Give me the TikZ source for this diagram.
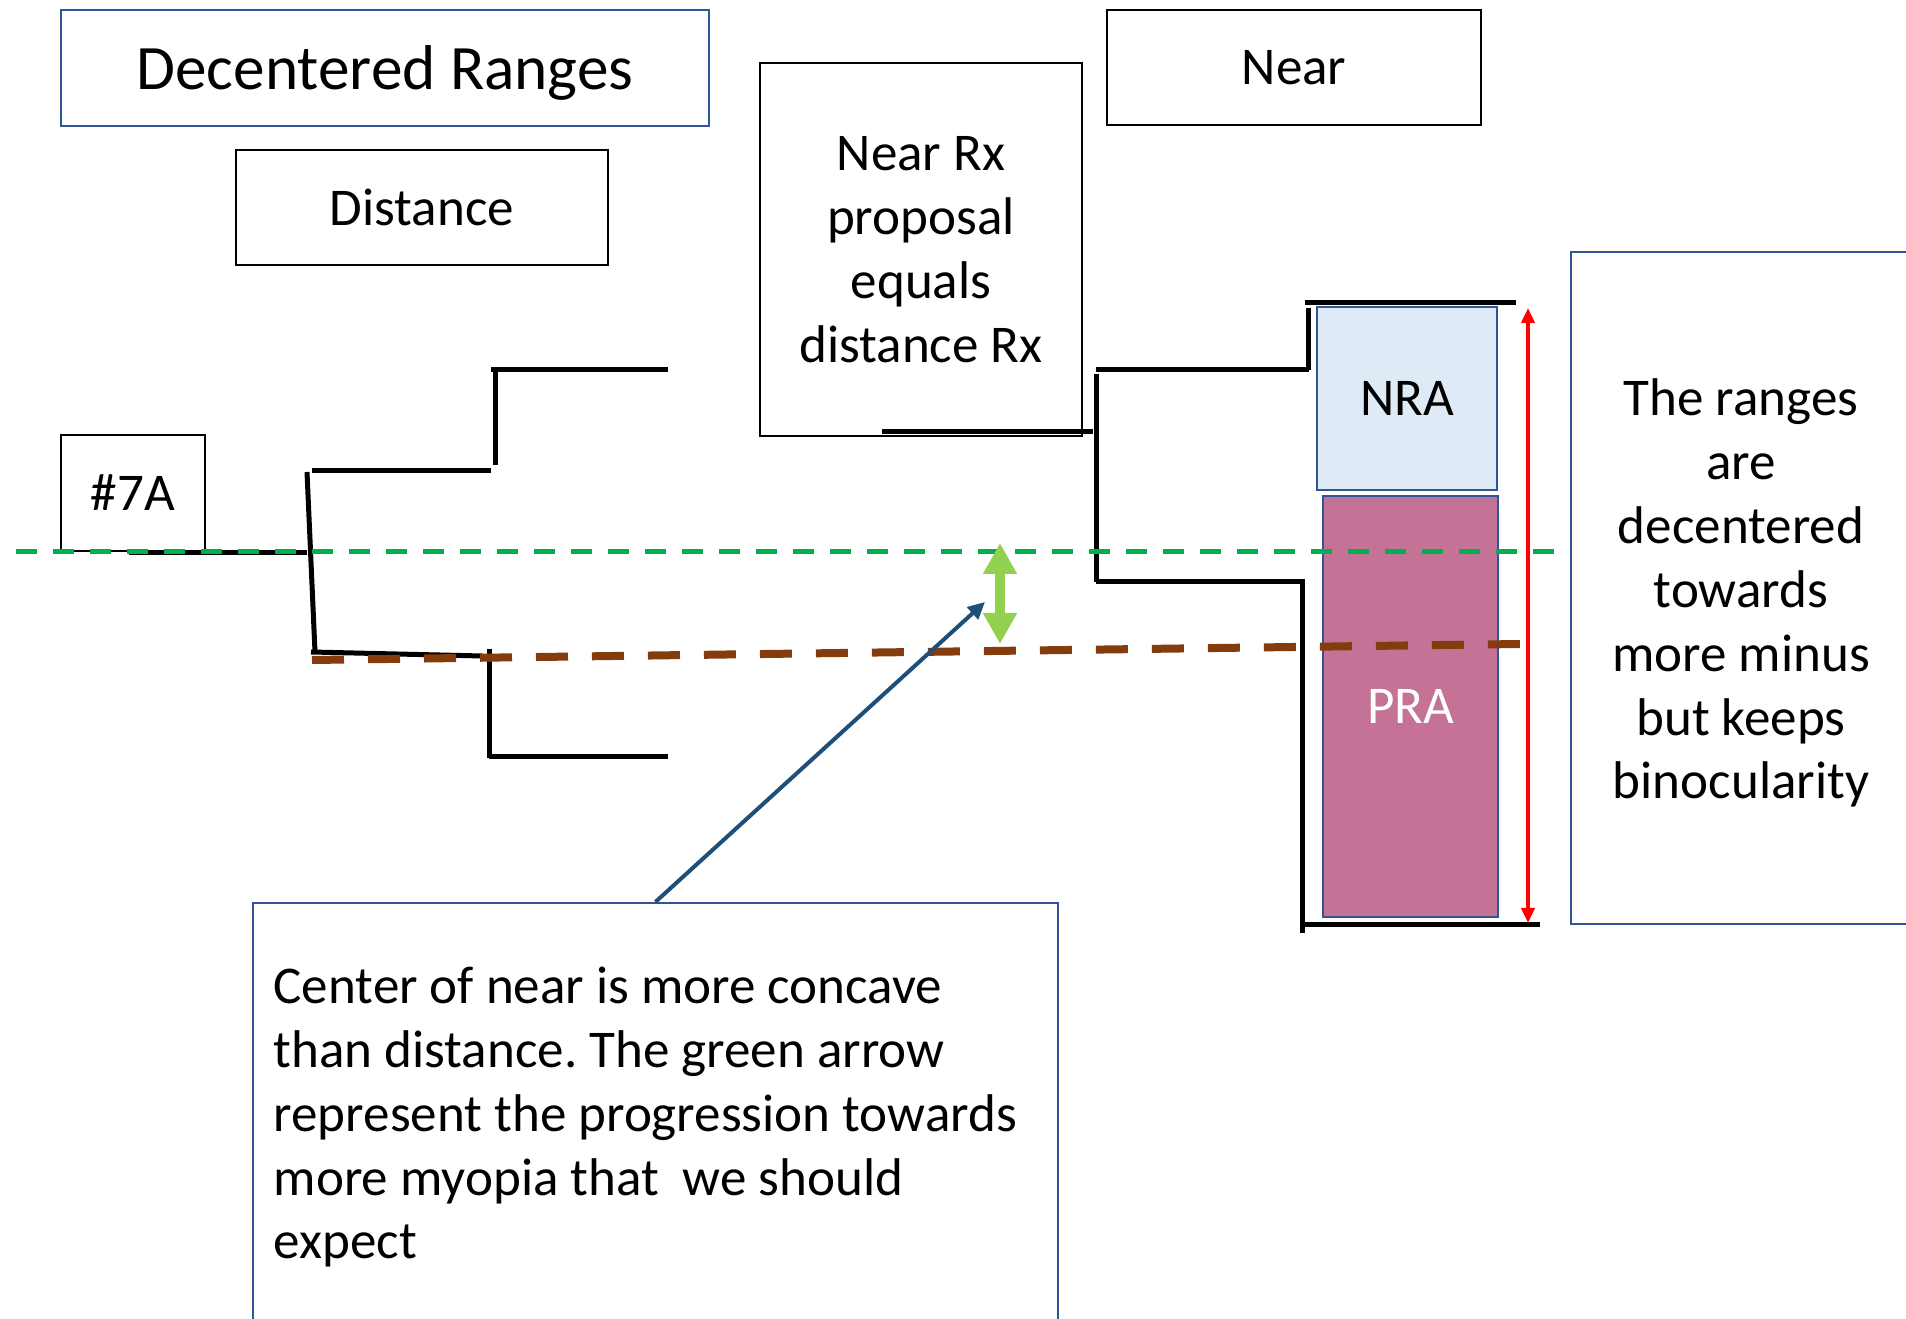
\documentclass[tikz,border=0pt]{standalone}
\usepackage{fontspec}
\setmainfont{Carlito}
\usetikzlibrary{arrows.meta,positioning}
\frenchspacing

\definecolor{boxblue}{RGB}{47,85,151}
\definecolor{nrafill}{RGB}{222,235,247}
\definecolor{prafill}{RGB}{196,114,150}
\definecolor{refgreen}{RGB}{0,176,80}
\definecolor{rxbrown}{RGB}{132,60,12}
\definecolor{progreen}{RGB}{146,208,80}
\definecolor{pointblue}{RGB}{31,78,121}
\newcommand{\slidefont}{\fontsize{15.1pt}{18.2pt}\selectfont}

\begin{document}
\begin{tikzpicture}[x=0.1mm,y=-0.1mm,
  every node/.style={inner sep=0pt,font=\slidefont,align=center},
  blackbox/.style={draw=black,line width=0.2mm},
  bluebox/.style={draw=boxblue,line width=0.22mm},
  bar/.style={black,line width=0.5mm},
  distline/.style={refgreen,line width=0.5mm,dash pattern=on 2.1mm off 1.6mm},
  nearline/.style={rxbrown,line width=0.8mm,dash pattern=on 3.2mm off 2.4mm},
  shift arrow/.style={progreen,line width=1.05mm,
    {Triangle[width=3.2mm,length=3.1mm]}-{Triangle[width=3.2mm,length=3.1mm]}},
  range arrow/.style={red,line width=0.4mm,
    {Triangle[width=1.3mm,length=1.5mm]}-{Triangle[width=1.3mm,length=1.5mm]}},
  pointer/.style={pointblue,line width=0.4mm,-{Triangle[width=1.6mm,length=1.7mm]}}]
\useasboundingbox (0,0) rectangle (1906,1319);
\clip (0,0) rectangle (1906,1319);

% boxes
\node [bluebox,minimum width=64.8mm,minimum height=11.6mm,text depth=0pt,font=\fontsize{18pt}{21.8pt}\selectfont] (title) at (385,68) {Decentered Ranges};
\node [blackbox,minimum width=37.2mm,minimum height=11.5mm] (dist) at (422,207.5) {Distance};
\node [blackbox,minimum width=32.2mm,minimum height=37.3mm] (nearrx) at (921,249.5) {Near Rx\\proposal\\equals\\distance Rx};
\node [blackbox,minimum width=37.4mm,minimum height=11.5mm] (near) at (1294,67.5) {Near};
\node [blackbox,minimum width=14.4mm,minimum height=11.6mm] (sevena) at (133,493) {\#7A};
\node [bluebox,fill=nrafill,minimum width=18mm,minimum height=18.3mm] (nra) at (1407,398.5) {NRA};
\node [bluebox,fill=prafill,text=white,minimum width=17.5mm,minimum height=42.1mm] (pra) at (1410.5,706.5) {PRA};
\node [bluebox,minimum width=34mm,minimum height=67.2mm] (ranges) at (1741,588) {};
\node [anchor=base] (rangestext) at (1741,799) {The ranges\\are\\decentered\\towards\\more minus\\but keeps\\binocularity};
\node [bluebox,minimum width=80.5mm,minimum height=43.7mm] (note) at (655.5,1121.5) {};
\node [anchor=base west,align=left] (notetext) at (273,1259) {Center of near is more concave\\than distance. The green arrow\\represent the progression towards\\more myopia that~ we should\\expect};

% distance steps
\draw [bar] (129,553) -- (307,553);
\draw [bar] (307,472) -- (315,652);
\draw [bar] (312,471) -- (491,471);
\draw [bar] (495,370) -- (495,465);
\draw [bar] (491,370) -- (668,370);
\draw [bar] (311,652) -- (482,656);
\draw [bar] (489,649) -- (489,758);
\draw [bar] (489,757) -- (668,757);

% near steps
\draw [bar] (882,432) -- (1093,432);
\draw [bar] (1096,374) -- (1096,582);
\draw [bar] (1096,370) -- (1309,370);
\draw [bar] (1308,308) -- (1308,370);
\draw [bar] (1305,303) -- (1516,303);
\draw [bar] (1096,582) -- (1305,582);
\draw [bar] (1302,582) -- (1302,933);
\draw [bar] (1302,925) -- (1540,925);

% centre lines
\draw [distline] (16,552) -- (1568,552);
\draw [nearline] (312,660) -- (1520,644);

% arrows
\coordinate (shifttop) at (1000,543);
\coordinate (shiftbot) at (1000,644);
\coordinate (rangetop) at (1528,308);
\coordinate (rangebot) at (1528,923);
\coordinate (pointtip) at (985,602);
\draw [shift arrow] (shifttop) -- (shiftbot);
\draw [range arrow] (rangetop) -- (rangebot);
\draw [pointer] (note.north) -- (pointtip);
\end{tikzpicture}
\end{document}
